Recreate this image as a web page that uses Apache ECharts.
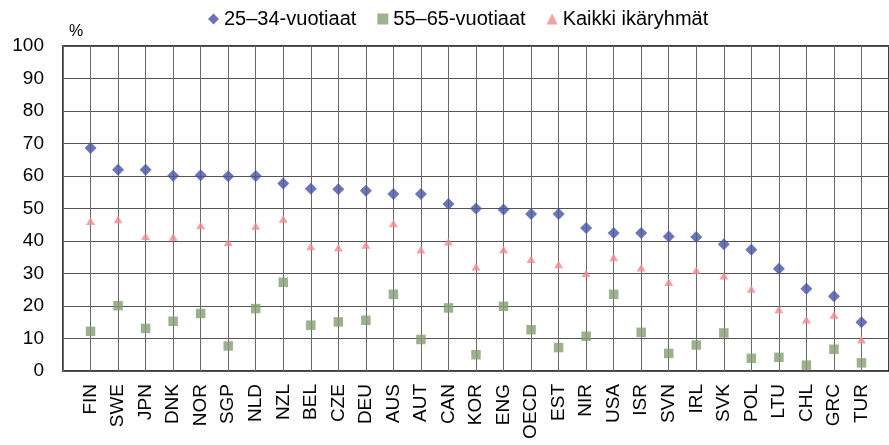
<!DOCTYPE html>
<html>
<head>
<meta charset="utf-8">
<script src="https://cdn.jsdelivr.net/npm/echarts@6/dist/echarts.min.js"></script>
<style>
  html, body { margin: 0; padding: 0; background: #fff; }
  #chart { width: 889px; height: 445px; }
</style>
</head>
<body>
<div id="chart"></div>
<script>
'use strict'

// maat
var categories = ['FIN','SWE','JPN','DNK','NOR','SGP','NLD','NZL','BEL','CZE','DEU','AUS','AUT','CAN','KOR',
    'ENG','OECD','EST','NIR','USA','ISR','SVN','IRL','SVK','POL','LTU','CHL','GRC','TUR'];

// 25–34-vuotiaat
var young = [68.6,61.9,61.9,60.1,60.2,59.9,60.0,57.7,56.1,55.9,55.5,54.5,54.5,51.4,50.0,
    49.7,48.3,48.3,44.0,42.5,42.5,41.4,41.2,39.0,37.3,31.5,25.3,23.0,15.0];

// 55–65-vuotiaat
var old = [12.2,20.1,13.1,15.3,17.7,7.7,19.2,27.3,14.1,15.1,15.6,23.6,9.7,19.4,5.0,
    19.9,12.7,7.2,10.7,23.6,11.9,5.4,8.0,11.7,3.9,4.2,1.8,6.7,2.5];

// Kaikki ikäryhmät
var all = [46.1,46.6,41.5,41.2,44.8,39.6,44.6,46.8,38.3,37.9,38.8,45.4,37.3,39.8,32.1,
    37.4,34.4,32.8,30.1,34.9,31.8,27.3,31.0,29.3,25.2,18.9,15.8,17.2,9.6];

var yTicks = [0,10,20,30,40,50,60,70,80,90,100];

var font = 'Liberation Sans, Arial, sans-serif';

// x = maan järjestysnumero, jotta pystyviivat osuvat pisteiden kohdalle
function pairs(arr) {
    return arr.map(function (v, i) { return [i, v]; });
}

var chart = echarts.init(document.getElementById('chart'));

var option = {
    animation: false,
    textStyle: { fontFamily: font },
    legend: {
        top: 4,
        left: 203,
        itemWidth: 11,
        itemHeight: 11,
        itemGap: 21,
        textStyle: { fontSize: 20, color: '#000', fontFamily: font },
        data: [
            { name: '25–34-vuotiaat', icon: 'diamond' },
            { name: '55–65-vuotiaat', icon: 'rect' },
            { name: 'Kaikki ikäryhmät', icon: 'triangle' }
        ]
    },
    // yksikkö akselin yläpuolella
    graphic: [{
        type: 'text',
        left: 69,
        top: 24,
        style: { text: '%', fontSize: 16, fill: '#000', fontFamily: font }
    }],
    grid: {
        left: 63, right: -5, top: 46, bottom: 74,
        show: true, borderColor: '#000', borderWidth: 1.5
    },
    xAxis: {
        type: 'value',
        min: -1,
        max: categories.length,
        interval: 1,
        axisLine: { show: false },
        axisTick: { show: false },
        splitLine: { show: true, lineStyle: { color: '#6a6a6a', width: 1 } },
        axisLabel: {
            rotate: 90, fontSize: 19, color: '#000', margin: 13, fontFamily: font,
            formatter: function (v) { return categories[v] || ''; }
        }
    },
    yAxis: {
        type: 'value',
        min: yTicks[0],
        max: yTicks[yTicks.length - 1],
        interval: 10,
        axisLine: { show: false },
        axisTick: { show: false },
        axisLabel: { fontSize: 19, color: '#000', margin: 19, fontFamily: font },
        splitLine: { lineStyle: { color: '#555', width: 1 } }
    },
    series: [
        {
            name: '25–34-vuotiaat',
            type: 'scatter',
            symbol: 'diamond',
            symbolSize: 12,
            itemStyle: { color: '#4753A3' },
            data: pairs(young),
            z: 5
        },
        {
            name: '55–65-vuotiaat',
            type: 'scatter',
            symbol: 'rect',
            symbolSize: 9.5,
            itemStyle: { color: '#849E72' },
            data: pairs(old),
            z: 4
        },
        {
            name: 'Kaikki ikäryhmät',
            type: 'scatter',
            symbol: 'triangle',
            symbolSize: [9, 7.5],
            itemStyle: { color: '#F2888F' },
            data: pairs(all),
            z: 3
        }
    ]
};

chart.setOption(option);
</script>
</body>
</html>
